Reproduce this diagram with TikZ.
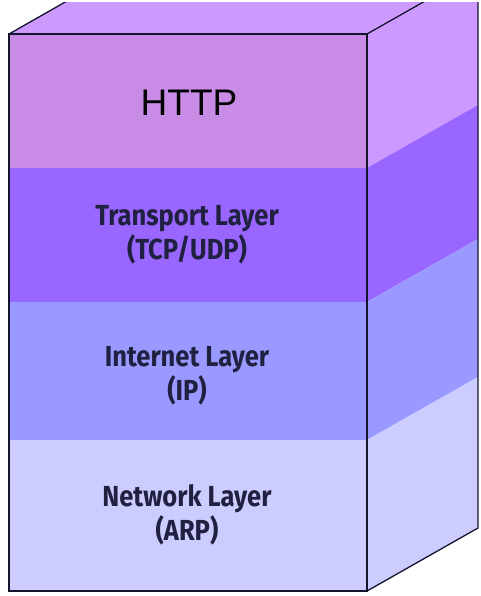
\documentclass[tikz,border=0pt]{standalone}
\usepackage{fontspec}
\setmainfont{Liberation Sans}
\newfontfamily\condfont{Fira Sans}
\newcommand{\cnd}[1]{\scalebox{0.88}[1]{#1}}
\begin{document}
\begin{tikzpicture}[x=1pt,y=-1pt,
  edge/.style={draw=edgecol,line width=1.3pt,line join=miter},
  layertext/.style={text=textcol,align=center,font=\condfont\bfseries\fontsize{29}{34}\selectfont,inner sep=0pt},
  ]
\definecolor{httpfront}{HTML}{C88CE6}
\definecolor{httptop}{HTML}{CC99FF}
\definecolor{transport}{HTML}{9966FF}
\definecolor{internet}{HTML}{9999FF}
\definecolor{network}{HTML}{CCCCFF}
\definecolor{edgecol}{HTML}{14142E}
\definecolor{textcol}{HTML}{202040}
\useasboundingbox (0,0) rectangle (481,596);
\begin{scope}
\clip (0,3) rectangle (479,596);
% top face
\fill[httptop] (9,34) -- (367,34) -- (478,-29) -- (120,-29) -- cycle;
% side bands
\fill[httptop] (367,34) -- (478,-29) -- (478,105) -- (367,168) -- cycle;
\fill[transport] (367,168) -- (478,105) -- (478,239) -- (367,302) -- cycle;
\fill[internet] (367,302) -- (478,239) -- (478,377) -- (367,440) -- cycle;
\fill[network] (367,440) -- (478,377) -- (478,528) -- (367,591) -- cycle;
% front bands
\fill[httpfront] (9,34) rectangle (367,168);
\fill[transport] (9,168) rectangle (367,302);
\fill[internet] (9,302) rectangle (367,440);
\fill[network] (9,440) rectangle (367,591);
% outlines
\draw[edge] (9,34) rectangle (367,591);
\draw[edge] (9,34) -- (118,-28);
\draw[edge] (367,34) -- (478,-29);
\draw[edge] (478,-29) -- (478,528) -- (367,591);
\end{scope}
% texts
\node[text=black,font=\fontsize{37}{40}\selectfont,inner sep=0pt] (http) at (189,103) {HTTP};
\node[layertext] (transp) at (187,235) {\cnd{Transport Layer}\\\cnd{(TCP/UDP)}};
\node[layertext] (inet) at (187,376) {\cnd{Internet Layer}\\\cnd{(IP)}};
\node[layertext] (netw) at (187,515) {\cnd{Network Layer}\\\cnd{(ARP)}};
\end{tikzpicture}
\end{document}
